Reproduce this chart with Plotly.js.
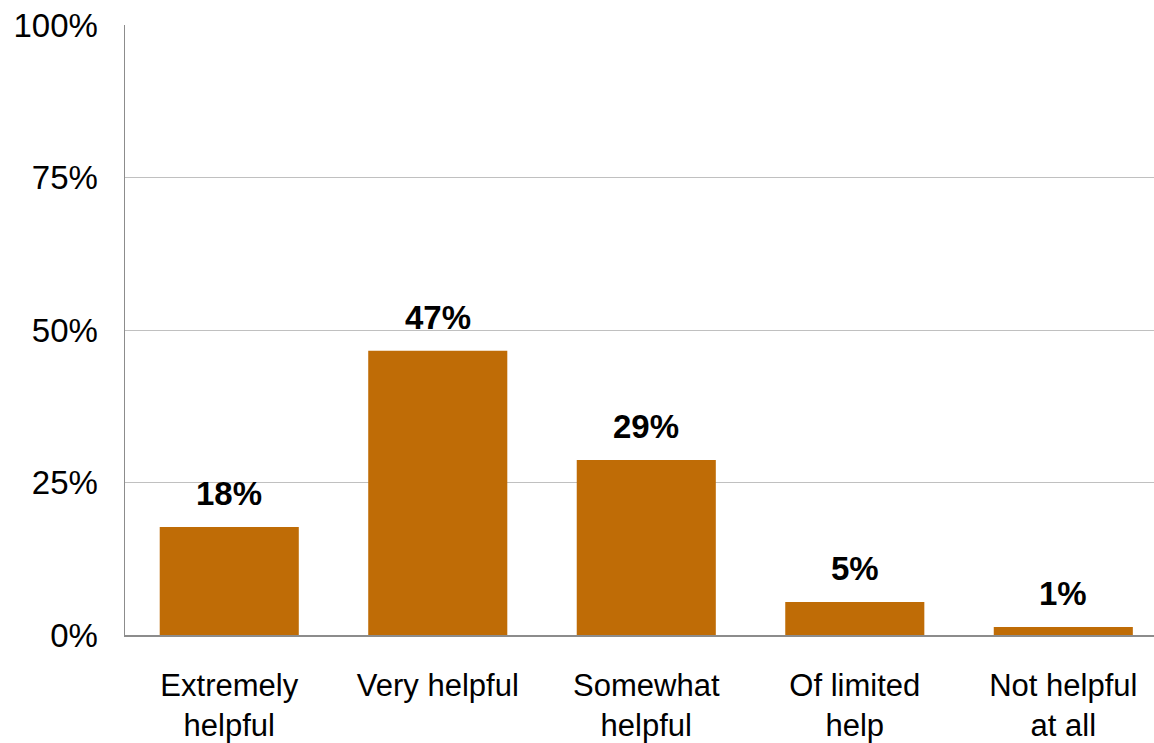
<!DOCTYPE html>
<html>
<head>
<meta charset="utf-8">
<script src="https://cdn.plot.ly/plotly-3.0.1.min.js"></script>
<style>
  html, body { margin: 0; padding: 0; background: #ffffff; }
  #chart { width: 1154px; height: 743px; }
</style>
</head>
<body>
<div id="chart"></div>
<script>
const categories = ["Extremely<br>helpful", "Very helpful", "Somewhat<br>helpful", "Of limited<br>help", "Not helpful<br>at all"];
const values = [17.7, 46.6, 28.7, 5.4, 1.3];
const valueLabels = ["18%", "47%", "29%", "5%", "1%"];
const yTickValues = [0, 25, 50, 75, 100];
const yTickLabels = ["0%", "25%", "50%", "75%", "100%"];

const barColor = "#BF6C06";
const fontFamily = "Liberation Sans, Arial, sans-serif";

const trace = {
  type: "bar",
  x: categories.map((c, i) => i),
  y: values,
  width: 0.667,
  marker: { color: barColor, line: { width: 0 } },
  hoverinfo: "skip"
};

const annotations = values.map((v, i) => ({
  x: i,
  y: v,
  xref: "x",
  yref: "y",
  text: "<b>" + valueLabels[i] + "</b>",
  showarrow: false,
  yanchor: "bottom",
  yshift: 13,
  font: { family: fontFamily, size: 33, color: "#000000" }
}));

const layout = {
  width: 1154,
  height: 743,
  margin: { l: 125, r: 0, t: 25, b: 108, pad: 0 },
  paper_bgcolor: "#ffffff",
  plot_bgcolor: "#ffffff",
  showlegend: false,
  bargap: 0.333,
  xaxis: {
    range: [-0.5, 4.435],
    tickmode: "array",
    tickvals: categories.map((c, i) => i),
    ticktext: categories,
    tickangle: 0,
    showgrid: false,
    zeroline: false,
    showline: true,
    linecolor: "#8c8c8c",
    linewidth: 1.5,
    ticks: "",
    ticklabelstandoff: 22,
    tickfont: { family: fontFamily, size: 31, color: "#000000" },
    fixedrange: true
  },
  yaxis: {
    range: [0, 100],
    tickmode: "array",
    tickvals: yTickValues,
    ticktext: yTickLabels,
    showgrid: true,
    gridcolor: "#c0c0c0",
    gridwidth: 1,
    zeroline: false,
    showline: true,
    linecolor: "#8c8c8c",
    linewidth: 1.5,
    ticks: "",
    ticklabelstandoff: 19,
    tickfont: { family: fontFamily, size: 33, color: "#000000" },
    fixedrange: true
  },
  annotations: annotations
};

Plotly.newPlot("chart", [trace], layout, { displayModeBar: false, staticPlot: true });
</script>
</body>
</html>
